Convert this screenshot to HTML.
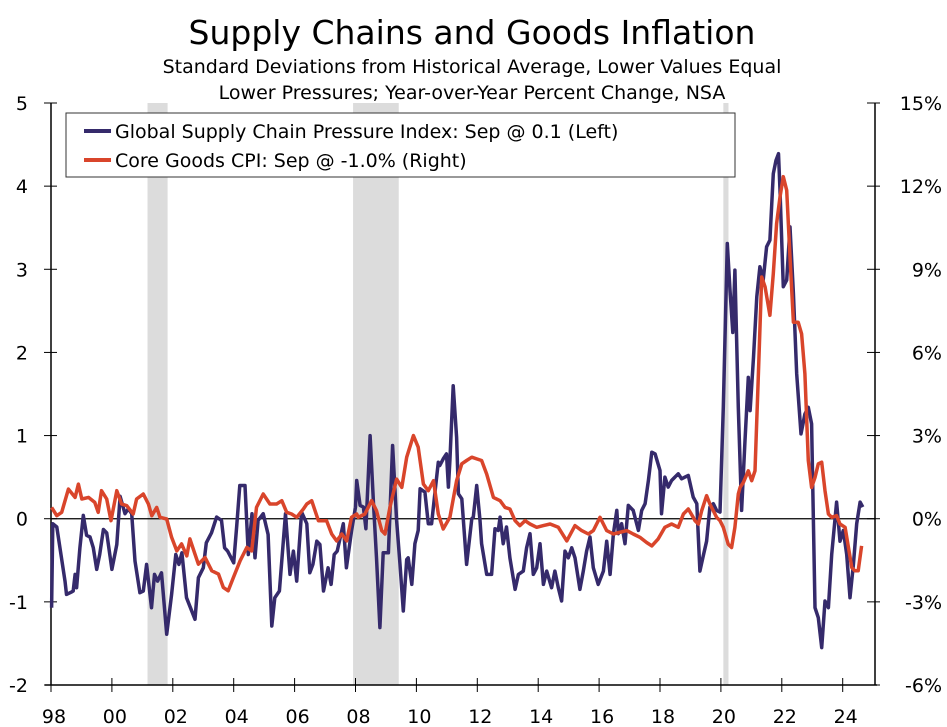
<!DOCTYPE html>
<html><head><meta charset="utf-8"><style>
body{margin:0;background:#fff;}
svg{display:block;font-family:"DejaVu Sans","Liberation Sans",sans-serif;}
</style></head><body>
<svg id="chart" width="947" height="727" viewBox="0 0 947 727" xmlns="http://www.w3.org/2000/svg">
<text x="472" y="44" text-anchor="middle" font-size="33" fill="#000">Supply Chains and Goods Inflation</text>
<text x="472" y="73" text-anchor="middle" font-size="19" fill="#000">Standard Deviations from Historical Average, Lower Values Equal</text>
<text x="472" y="99" text-anchor="middle" font-size="19" fill="#000">Lower Pressures; Year-over-Year Percent Change, NSA</text>
<g id="shade"></g>
<g id="axes"></g>
<g id="series"></g>
<g>
<rect x="66" y="113" width="669" height="64" fill="#fff" stroke="#333" stroke-width="1"/>
<line x1="84" y1="131" x2="111" y2="131" stroke="#352a6b" stroke-width="4"/>
<text x="115" y="138" font-size="19" fill="#000">Global Supply Chain Pressure Index: Sep @ 0.1 (Left)</text>
<line x1="84" y1="160" x2="111" y2="160" stroke="#d9452b" stroke-width="4"/>
<text x="115" y="167" font-size="19" fill="#000">Core Goods CPI: Sep @ -1.0% (Right)</text>
</g>
</svg>
<script>
const xTickLabels = ["98","00","02","04","06","08","10","12","14","16","18","20","22","24"];
const xTickYears = [1998,2000,2002,2004,2006,2008,2010,2012,2014,2016,2018,2020,2022,2024];
const leftTicks = [5,4,3,2,1,0,-1,-2];
const rightTickLabels = ["15%","12%","9%","6%","3%","0%","-3%","-6%"];
const recessionStarts = [2001.17, 2007.92, 2020.08];
const recessionEnds = [2001.83, 2009.42, 2020.25];
const gscpiYears = [1998.02,1998.06,1998.19,1998.46,1998.51,1998.68,1998.73,1998.79,1998.84,1998.95,1999.06,1999.17,1999.28,1999.39,1999.5,1999.6,1999.72,1999.83,2000.0,2000.16,2000.27,2000.43,2000.54,2000.65,2000.76,2000.92,2001.03,2001.14,2001.3,2001.4,2001.5,2001.63,2001.8,2001.96,2002.1,2002.2,2002.3,2002.45,2002.73,2002.84,2003.0,2003.1,2003.27,2003.44,2003.6,2003.7,2003.8,2004.0,2004.1,2004.2,2004.37,2004.48,2004.6,2004.7,2004.8,2004.97,2005.13,2005.25,2005.35,2005.5,2005.7,2005.8,2005.85,2005.96,2006.07,2006.23,2006.4,2006.5,2006.6,2006.73,2006.83,2006.95,2007.1,2007.2,2007.3,2007.4,2007.6,2007.7,2007.87,2008.0,2008.04,2008.15,2008.26,2008.34,2008.48,2008.59,2008.69,2008.8,2008.91,2009.08,2009.22,2009.35,2009.46,2009.57,2009.68,2009.73,2009.85,2009.95,2010.06,2010.12,2010.28,2010.39,2010.5,2010.61,2010.72,2010.77,2010.88,2010.99,2011.05,2011.1,2011.21,2011.32,2011.38,2011.49,2011.65,2011.82,2011.87,2011.98,2012.09,2012.14,2012.31,2012.47,2012.58,2012.69,2012.75,2012.85,2012.96,2013.07,2013.24,2013.35,2013.51,2013.62,2013.73,2013.84,2013.95,2014.06,2014.17,2014.28,2014.44,2014.55,2014.66,2014.77,2014.88,2014.99,2015.1,2015.21,2015.37,2015.48,2015.59,2015.7,2015.81,2015.97,2016.14,2016.25,2016.36,2016.47,2016.58,2016.63,2016.74,2016.85,2016.96,2017.12,2017.29,2017.4,2017.51,2017.62,2017.73,2017.84,2018.0,2018.05,2018.16,2018.27,2018.38,2018.49,2018.6,2018.71,2018.82,2018.93,2019.09,2019.21,2019.31,2019.42,2019.53,2019.64,2019.75,2019.86,2019.97,2020.08,2020.21,2020.3,2020.39,2020.46,2020.57,2020.68,2020.79,2020.9,2020.96,2021.07,2021.18,2021.28,2021.39,2021.5,2021.61,2021.72,2021.81,2021.89,2021.94,2022.05,2022.16,2022.27,2022.38,2022.49,2022.63,2022.76,2022.87,2022.98,2023.09,2023.2,2023.31,2023.42,2023.53,2023.64,2023.8,2023.91,2024.02,2024.13,2024.24,2024.35,2024.46,2024.57,2024.66];
const gscpiValues = [-1.07,-0.06,-0.1,-0.75,-0.91,-0.88,-0.87,-0.67,-0.83,-0.35,0.04,-0.2,-0.22,-0.35,-0.61,-0.43,-0.13,-0.17,-0.61,-0.31,0.27,0.06,0.12,0.06,-0.51,-0.89,-0.87,-0.55,-1.07,-0.67,-0.75,-0.65,-1.39,-0.91,-0.43,-0.55,-0.41,-0.95,-1.21,-0.71,-0.59,-0.29,-0.17,0.02,-0.02,-0.35,-0.39,-0.53,-0.09,0.4,0.4,-0.43,0.06,-0.47,-0.02,0.06,-0.19,-1.29,-0.95,-0.87,0.06,-0.43,-0.67,-0.39,-0.75,0.08,-0.06,-0.65,-0.55,-0.27,-0.31,-0.87,-0.59,-0.79,-0.43,-0.39,-0.06,-0.59,-0.15,0.14,0.46,0.16,0.14,-0.12,1.0,0.18,-0.47,-1.31,-0.41,-0.41,0.88,-0.02,-0.55,-1.11,-0.49,-0.47,-0.79,-0.3,-0.14,0.36,0.32,-0.06,-0.06,0.32,0.68,0.64,0.72,0.78,0.38,0.7,1.6,0.98,0.3,0.24,-0.55,0.0,0.02,0.4,-0.02,-0.3,-0.67,-0.67,-0.12,-0.14,0.02,-0.3,-0.1,-0.47,-0.85,-0.67,-0.63,-0.35,-0.18,-0.67,-0.59,-0.3,-0.79,-0.63,-0.83,-0.63,-0.83,-0.99,-0.39,-0.47,-0.35,-0.47,-0.85,-0.63,-0.39,-0.22,-0.59,-0.79,-0.63,-0.27,-0.67,-0.18,0.1,-0.18,-0.06,-0.3,0.16,0.1,-0.14,0.1,0.18,0.46,0.8,0.78,0.58,0.06,0.5,0.38,0.46,0.5,0.54,0.48,0.5,0.52,0.26,0.18,-0.63,-0.45,-0.27,0.14,0.18,0.1,0.08,1.34,3.31,2.75,2.24,2.99,1.34,0.1,0.94,1.7,1.3,1.94,2.67,3.03,2.87,3.27,3.35,4.15,4.31,4.39,3.95,2.79,2.87,3.51,2.71,1.74,1.02,1.26,1.34,1.14,-1.07,-1.19,-1.55,-0.99,-1.07,-0.43,0.2,-0.27,-0.14,-0.43,-0.95,-0.55,-0.06,0.2,0.14];
const coreYears = [1998.02,1998.19,1998.35,1998.57,1998.79,1998.9,1999.01,1999.23,1999.44,1999.55,1999.66,1999.83,1999.97,2000.16,2000.32,2000.49,2000.7,2000.81,2001.03,2001.2,2001.31,2001.47,2001.58,2001.8,2001.96,2002.13,2002.29,2002.46,2002.56,2002.73,2002.84,2003.06,2003.28,2003.5,2003.66,2003.82,2003.99,2004.21,2004.43,2004.59,2004.75,2004.97,2005.19,2005.41,2005.58,2005.74,2005.9,2006.07,2006.29,2006.4,2006.56,2006.78,2007.05,2007.22,2007.38,2007.55,2007.71,2007.87,2008.04,2008.09,2008.31,2008.53,2008.69,2008.86,2008.97,2009.13,2009.35,2009.52,2009.68,2009.9,2010.06,2010.23,2010.39,2010.56,2010.72,2010.88,2011.1,2011.32,2011.49,2011.65,2011.82,2011.98,2012.14,2012.31,2012.53,2012.75,2012.91,2013.07,2013.24,2013.4,2013.57,2013.73,2013.95,2014.17,2014.39,2014.66,2014.94,2015.21,2015.43,2015.65,2015.81,2016.03,2016.25,2016.47,2016.68,2016.91,2017.12,2017.34,2017.56,2017.73,2017.94,2018.16,2018.38,2018.6,2018.77,2018.93,2019.09,2019.15,2019.26,2019.37,2019.53,2019.64,2019.75,2019.86,2019.97,2020.08,2020.24,2020.35,2020.46,2020.57,2020.63,2020.74,2020.9,2021.01,2021.12,2021.23,2021.34,2021.45,2021.61,2021.72,2021.83,2021.94,2022.05,2022.16,2022.27,2022.38,2022.54,2022.65,2022.76,2022.87,2022.98,2023.09,2023.2,2023.31,2023.42,2023.53,2023.64,2023.8,2023.91,2024.08,2024.18,2024.3,2024.4,2024.51,2024.62];
const coreValues = [0.41,0.11,0.23,1.07,0.77,1.25,0.71,0.77,0.59,0.23,1.01,0.71,-0.07,1.01,0.53,0.47,0.17,0.71,0.89,0.53,0.11,0.41,0.05,-0.01,-0.67,-1.16,-0.91,-1.34,-0.73,-1.28,-1.64,-1.4,-1.88,-2.0,-2.48,-2.6,-2.12,-1.52,-1.04,-1.16,0.41,0.89,0.53,0.53,0.65,0.23,0.17,0.05,0.35,0.53,0.65,-0.07,-0.07,-0.55,-0.8,-0.55,-0.8,0.05,0.17,0.05,0.17,0.65,0.29,-0.43,-0.55,0.41,1.43,1.13,2.22,3.0,2.58,1.25,1.01,1.37,0.17,-0.37,0.05,1.37,1.98,2.1,2.22,2.16,2.1,1.61,0.77,0.65,0.41,0.35,-0.07,-0.25,-0.07,-0.19,-0.31,-0.25,-0.19,-0.31,-0.8,-0.25,-0.43,-0.55,-0.43,0.05,-0.43,-0.55,-0.49,-0.43,-0.55,-0.67,-0.86,-0.98,-0.73,-0.31,-0.19,-0.31,0.17,0.35,0.05,-0.07,-0.19,0.29,0.83,0.53,0.29,0.05,-0.07,-0.31,-0.92,-1.04,-0.31,0.89,1.13,1.31,1.73,1.37,1.73,5.23,8.72,8.36,7.34,8.84,10.65,11.61,12.34,11.85,9.44,7.09,7.09,6.67,5.23,2.1,1.13,1.49,1.98,2.04,1.01,0.17,0.05,0.11,-0.19,-0.31,-0.98,-1.76,-1.88,-1.88,-0.98];

const NS = "http://www.w3.org/2000/svg";
const L = 51, R = 875, T = 103, B = 685;
function xs(t){ return L + (t - 1998) * 30.45; }
function yl(v){ return T + (5 - v) * (B - T) / 7; }
function yr(p){ return yl(p / 3); }
function mk(tag, attrs, parent){ const e = document.createElementNS(NS, tag); for (const k in attrs) e.setAttribute(k, attrs[k]); parent.appendChild(e); return e; }

const shade = document.getElementById('shade');
recessionStarts.forEach((s, i) => {
  const r = mk('rect', {x: xs(s), y: T, width: xs(recessionEnds[i]) - xs(s), height: B - T, fill: '#dcdcdc'}, shade);
  
  
});

const axes = document.getElementById('axes');
let e;
e = mk('line', {x1: L, y1: T, x2: L, y2: B, stroke: '#000', 'stroke-width': 1.5}, axes);


e = mk('line', {x1: R, y1: T, x2: R, y2: B, stroke: '#000', 'stroke-width': 1.5}, axes);


e = mk('line', {x1: L - 6, y1: B, x2: R + 2, y2: B, stroke: '#000', 'stroke-width': 1.5}, axes);


e = mk('line', {x1: L, y1: yl(0), x2: R, y2: yl(0), stroke: '#000', 'stroke-width': 1.2}, axes);


leftTicks.forEach((v, i) => {
  const y = yl(v);
  const tk = mk('line', {x1: L - 7, y1: y, x2: L + 6, y2: y, stroke: '#000', 'stroke-width': 1}, axes);
  
  
  const lt = mk('text', {x: 28, y: y + 7, 'text-anchor': 'end', 'font-size': 19}, axes);
  lt.textContent = String(v);
  
  
  const rt = mk('line', {x1: R - 8, y1: y, x2: R + 5, y2: y, stroke: '#000', 'stroke-width': 1}, axes);
  
  
  const rl = mk('text', {x: 942, y: y + 7, 'text-anchor': 'end', 'font-size': 19}, axes);
  rl.textContent = rightTickLabels[i];
  
  
});
xTickYears.forEach((yr_, i) => {
  const x = xs(yr_);
  const tk = mk('line', {x1: x, y1: B - 7, x2: x, y2: B + 7, stroke: '#000', 'stroke-width': 1}, axes);
  
  
  const tl = mk('text', {x: x + 3, y: B + 38, 'text-anchor': 'middle', 'font-size': 19}, axes);
  tl.textContent = xTickLabels[i];
  
  
});

const series = document.getElementById('series');
function path(years, vals, yf){ return years.map((t, i) => (i ? 'L' : 'M') + xs(t).toFixed(1) + ',' + yf(vals[i]).toFixed(1)).join(''); }
const gp = mk('path', {d: path(gscpiYears, gscpiValues, yl), fill: 'none', stroke: '#352a6b', 'stroke-width': 3.5, 'stroke-linejoin': 'round'}, series);


const cp = mk('path', {d: path(coreYears, coreValues, yr), fill: 'none', stroke: '#d9452b', 'stroke-width': 3.5, 'stroke-linejoin': 'round'}, series);


</script>
</body></html>
